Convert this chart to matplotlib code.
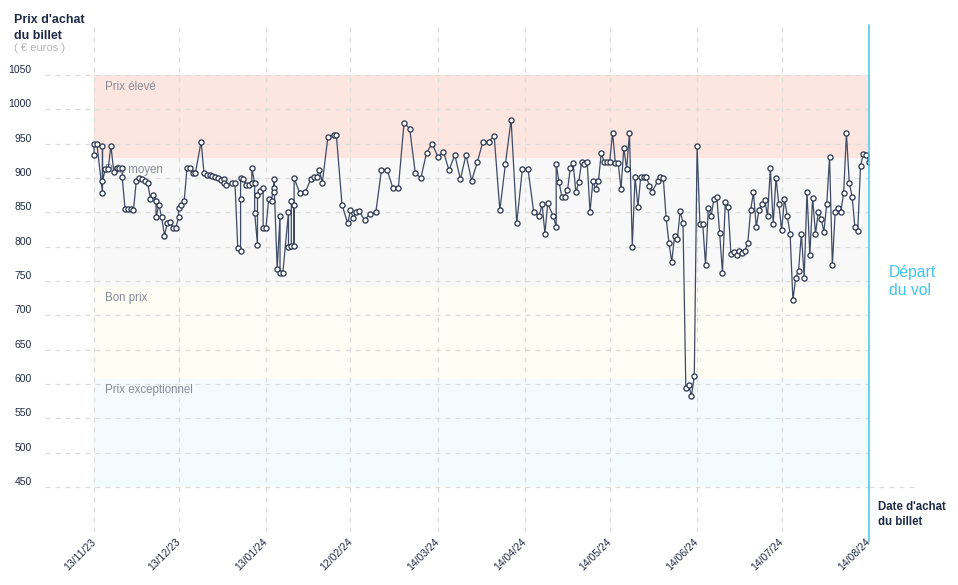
import pandas as pd
import matplotlib.pyplot as plt
import matplotlib.dates as mdates

plt.rcParams['font.family'] = ['Liberation Sans', 'DejaVu Sans']

# purchase day (days after 13/11/23) and ticket price in euros
start = pd.Timestamp('2023-11-13')
days = [0, 0, 1, 3, 3, 3, 4, 5, 6, 7, 8, 9, 10, 10, 11, 12, 13, 14, 15, 16, 17, 18, 19,
        20, 21, 22, 22, 23, 24, 25, 26, 27, 28, 29, 30, 30, 31, 32, 33, 34, 35, 36, 38,
        39, 40, 41, 42, 43, 44, 45, 46, 46, 47, 49, 50,
        51, 52, 52, 52, 53, 54, 55, 56, 56, 57, 57, 58, 58, 59, 60, 60, 61, 62, 63, 64,
        64, 64, 65, 66, 66, 67, 69, 69, 70, 70, 71, 71, 71, 73, 75, 77, 78, 79, 80, 81,
        83, 85, 86, 88, 90, 91, 92, 93, 94, 96, 98, 100,
        102, 104, 106, 108, 110, 112, 114, 116, 118, 120, 122, 124, 126, 128, 130, 132,
        134, 136, 138, 140, 142, 144, 146, 148, 150, 152, 154, 156, 158, 159, 160, 161,
        163, 164, 164, 165, 166, 167, 168, 169, 170, 171, 172, 173, 174, 175, 176, 177,
        178, 179, 180, 181, 182, 183, 184, 185, 186, 187, 188, 189, 190, 191, 192, 193,
        194, 195, 196, 197, 198, 200, 201, 202, 203, 204, 205, 206, 207, 208, 209, 210,
        211, 212, 213, 214, 215, 216, 217, 218, 219, 220, 221, 222, 223, 224, 225, 226,
        227, 228, 229, 230, 231, 232, 233, 234, 235, 236, 237, 238, 239, 240, 241, 242,
        243, 244, 245, 246, 247, 248, 249, 250, 251, 252, 253, 254, 255, 256, 257, 258,
        259, 260, 261, 262, 263, 264, 265, 266, 267, 268, 269, 270, 271, 272, 273, 274,
        275]
prices = [933, 950, 950, 878, 947, 896, 913, 913, 947, 909, 914, 914, 914, 901, 855, 855,
          855, 853, 896, 900, 898, 896, 893, 870, 875, 867, 843, 861, 843, 816, 834, 836,
          827, 827, 843, 856, 861, 867, 915, 915, 907, 908, 953, 908, 905, 904, 903, 901,
          900, 897, 899, 892, 890, 892, 893,
          798, 794, 870, 900, 898, 890, 890, 893, 914, 893, 849, 803, 875, 881, 886, 827,
          827, 870, 867, 899, 885, 879, 768, 845, 762, 762, 850, 800, 801, 867, 861, 801,
          900, 878, 880, 899, 902, 902, 911, 893, 960, 963, 962, 861, 834, 853, 842, 851,
          852, 839, 848, 850,
          912, 912, 886, 886, 980, 972, 907, 900, 937, 950, 931, 938, 911, 934, 898, 934,
          896, 923, 953, 953, 961, 853, 921, 985, 834, 913, 913, 851, 845, 862, 819, 863,
          844, 829, 920, 894, 873, 873, 882, 914, 922, 879, 894, 923, 920, 923, 850, 895,
          884, 896, 937, 923, 923, 924, 966, 922, 922, 884, 944, 913, 966, 800, 902, 858,
          902, 902, 902, 889, 880, 895, 902, 900, 842, 806, 778, 815, 811, 852, 835, 594,
          599, 583, 611, 946, 833, 833, 773, 857, 845, 870, 873, 820, 762, 865, 858, 790,
          792, 788, 794, 791, 794, 806, 853, 879, 829, 854, 862, 868, 845, 914, 833, 900,
          862, 824, 870, 844, 819, 722, 755, 765, 819, 755, 880, 788, 871, 819, 850, 841,
          822, 862, 930, 773, 851, 856, 851, 878, 965, 893, 873, 828, 823, 918, 935, 933,
          924]

# price bands (euros) and their labels
band_edges = [1050, 929, 742, 608, 450]
band_names = ['Prix élevé', 'Prix moyen', 'Bon prix', 'Prix exceptionnel']
band_colors = ['#fde6e0', '#f8f8f8', '#fdfdf3', '#f3fbfe']

tick_dates = ['2023-11-13', '2023-12-13', '2024-01-13', '2024-02-12', '2024-03-14',
              '2024-04-14', '2024-05-14', '2024-06-14', '2024-07-14', '2024-08-14']
y_ticks = list(range(450, 1051, 50))

dates = start + pd.to_timedelta(days, unit='D')
end = pd.Timestamp(tick_dates[-1])

navy = '#1f2b45'
grid_col = '#dcdcdc'

fig = plt.figure(figsize=(9.58, 5.85), dpi=100)
ax = fig.add_axes([45 / 958, 53 / 585, 824 / 958, 507 / 585])
ax.set_xlim(start - pd.Timedelta(days=17.4), end)
ax.set_ylim(384.5, 1122.8)

# background bands
for i, name in enumerate(band_names):
    ax.fill_between([start, end], band_edges[i + 1], band_edges[i],
                    color=band_colors[i], lw=0, zorder=0)
    ax.text(start + pd.Timedelta(days=3.9), band_edges[i] - 17, name,
            color='#858b97', fontsize=8.3, va='center', ha='left', zorder=1)

# grid
ax.set_yticks(y_ticks)
ax.set_xticks(pd.to_datetime(tick_dates))
ax.xaxis.set_major_formatter(mdates.DateFormatter('%d/%m/%y'))
ax.grid(True, color=grid_col, linestyle=(0, (4, 4)), lw=0.9, zorder=0.5)
ax.set_axisbelow(True)
for s in ax.spines.values():
    s.set_visible(False)
ax.tick_params(axis='both', length=0, colors=navy, labelsize=7.5)
ax.tick_params(axis='y', pad=9.5)
ax.tick_params(axis='x', pad=6)
for lab in ax.get_yticklabels():
    lab.set_va('bottom')
for lab in ax.get_xticklabels():
    lab.set_rotation(45)
    lab.set_ha('right')
    lab.set_va('center')
    lab.set_rotation_mode('anchor')

# bottom line runs past the departure line
ax.plot([end, end + pd.Timedelta(days=17.4)], [450, 450], color=grid_col,
        linestyle=(0, (4, 4)), lw=0.9, clip_on=False, zorder=0.5)

# price line
ax.plot(dates, prices, color='#3e4b66', lw=0.9, marker='o', markersize=3.7,
        markerfacecolor='white', markeredgecolor='#27334d', markeredgewidth=0.9,
        zorder=3)

# departure line
ax.plot([end, end], [1122.8, 372], color='#3fc6ee', lw=1.1, clip_on=False, zorder=4)

# annotations
ax.text(end + pd.Timedelta(days=7), 750, 'Départ\ndu vol', color='#3fc6ee',
        fontsize=11.3, ha='left', va='center', linespacing=1.25)
ax.text(end + pd.Timedelta(days=3.2), 410, "Date d'achat\ndu billet", color=navy,
        fontsize=8.3, fontweight='bold', ha='left', va='center', linespacing=1.35)
fig.text(14 / 958, 1 - 28 / 585, "Prix d'achat\ndu billet", color=navy, fontsize=9,
         fontweight='bold', ha='left', va='center', linespacing=1.45)
fig.text(14 / 958, 1 - 48 / 585, '( € euros )', color='#b5b5b5', fontsize=8,
         ha='left', va='center')

fig.savefig('out.png', dpi=100, facecolor='white')
